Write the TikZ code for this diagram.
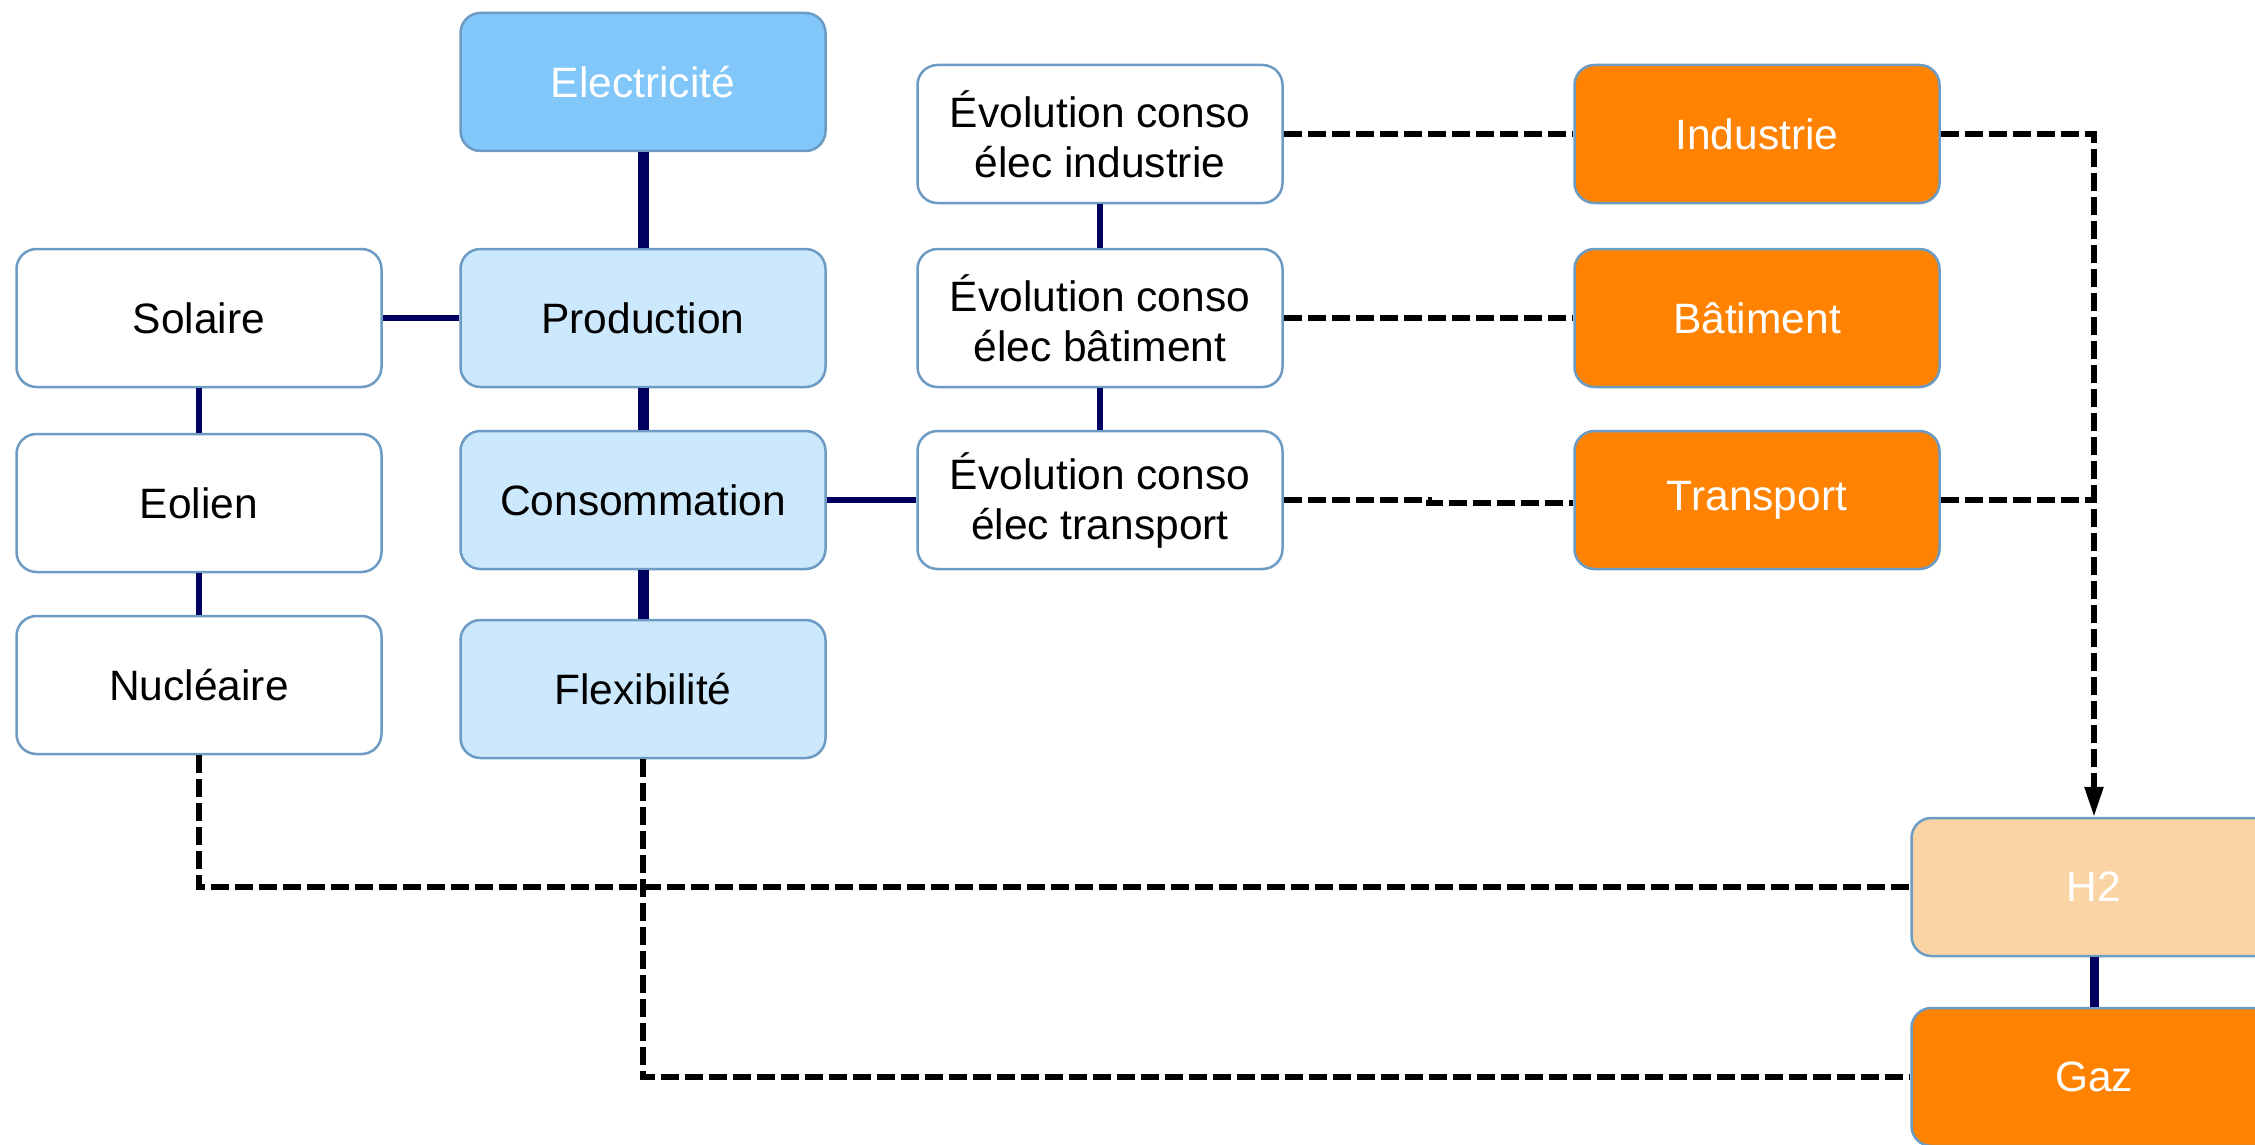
\documentclass[tikz,border=0pt]{standalone}
\usepackage{fontspec}
\setmainfont{Liberation Sans}
\usetikzlibrary{arrows.meta}
\definecolor{elecblue}{RGB}{130,199,250}
\definecolor{lightblue}{RGB}{204,232,252}
\definecolor{orng}{RGB}{255,130,0}
\definecolor{peach}{RGB}{251,212,165}
\definecolor{bordercol}{RGB}{108,155,196}
\definecolor{navy}{RGB}{0,0,96}
\begin{document}
\begin{tikzpicture}[x=1pt,y=-1pt,
  box/.style={draw=bordercol,line width=2.5pt,rounded corners=20pt,
    minimum width=365pt,minimum height=138pt,inner sep=0pt,align=center,
    font=\fontsize{42.5}{50}\selectfont},
  whitebox/.style={box,fill=white,text=black},
  bluebox/.style={box,fill=lightblue,text=black},
  topbox/.style={box,fill=elecblue,text=white},
  orangebox/.style={box,fill=orng,text=white},
  peachbox/.style={box,fill=peach,text=white},
  thickline/.style={draw=navy,line width=11pt},
  midline/.style={draw=navy,line width=6pt},
  thinline/.style={draw=navy,line width=5.5pt},
  dashline/.style={draw=black,line width=5.5pt,dash pattern=on 18pt off 6pt}
]
\useasboundingbox (0,0) rectangle (2255,1145);
\clip (0,0) rectangle (2255,1145);
\fill[white] (0,0) rectangle (2255,1145);

% nodes
\node[topbox] (elec) at (643,82) {Electricit\'e};
\node[bluebox] (prod) at (643,318) {Production};
\node[bluebox] (cons) at (643,500) {Consommation};
\node[bluebox] (flex) at (643,689) {Flexibilit\'e};
\node[whitebox] (sol) at (199,318) {Solaire};
\node[whitebox] (eol) at (199,503) {Eolien};
\node[whitebox] (nuc) at (199,685) {Nucl\'eaire};
\node[whitebox] (evi) at (1100,134) {\'Evolution conso\\\'elec industrie};
\node[whitebox] (evb) at (1100,318) {\'Evolution conso\\\'elec b\^atiment};
\node[whitebox] (evt) at (1100,500) {\'Evolution conso\\\'elec transport};
\node[orangebox] (ind) at (1757,134) {Industrie};
\node[orangebox] (bat) at (1757,318) {B\^atiment};
\node[orangebox] (tra) at (1757,500) {Transport};
\node[peachbox] (h2) at (2094,887) {H2};
\node[orangebox] (gaz) at (2094,1077) {Gaz};

% solid connectors
\draw[thickline] (elec.south) -- (prod.north);
\draw[thickline] (prod.south) -- (cons.north);
\draw[thickline] (cons.south) -- (flex.north);
\draw[thickline,line width=9pt] (h2.south) -- (gaz.north);
\draw[midline] (sol.east) -- (prod.west);
\draw[thinline] (sol.south) -- (eol.north);
\draw[thinline] (eol.south) -- (nuc.north);
\draw[thinline] (evi.south) -- (evb.north);
\draw[thinline] (evb.south) -- (evt.north);
\draw[midline] (cons.east) -- (evt.west);

% dashed connectors
\draw[dashline] (evi.east) -- (ind.west);
\draw[dashline] (evb.east) -- (bat.west);
\draw[dashline] (evt.east) -- ++(145,0) |- ([yshift=-3pt]tra.west);
\draw[dashline,-{Triangle[length=30pt,width=18pt]}] (ind.east) -| (h2.north);
\draw[dashline] (tra.east) -- (tra.east -| h2.north);
\draw[dashline] (nuc.south) |- (h2.west);
\draw[dashline] (flex.south) |- (gaz.west);
\end{tikzpicture}
\end{document}
